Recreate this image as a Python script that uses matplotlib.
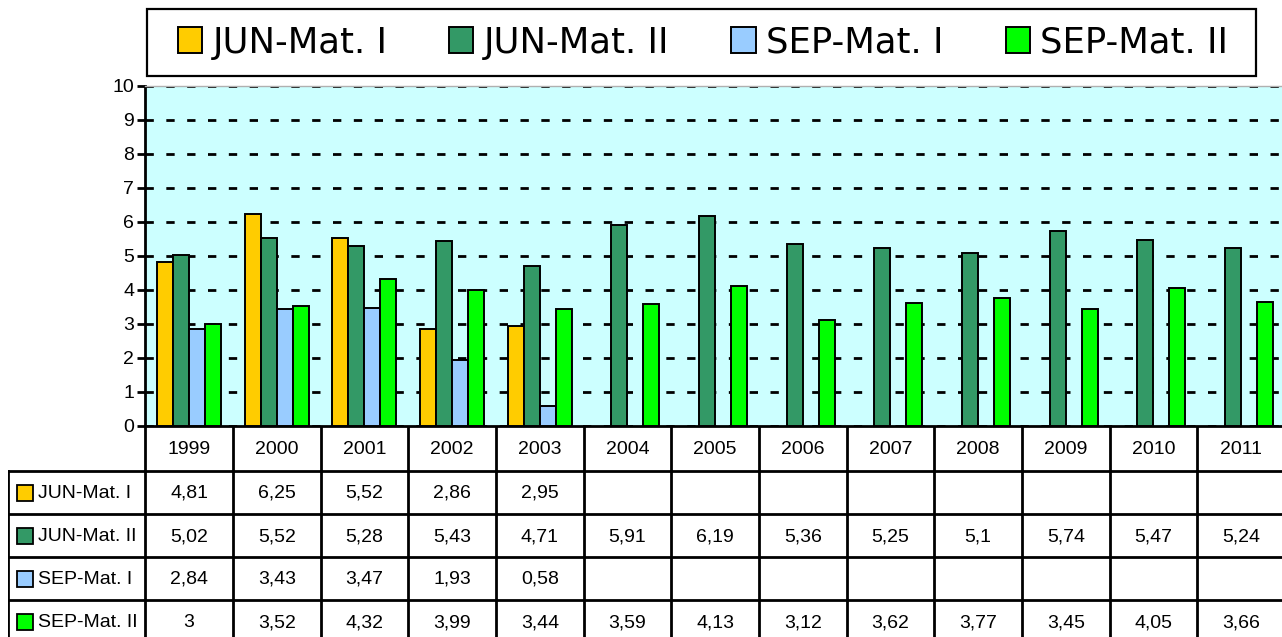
import numpy as np
import matplotlib
matplotlib.use("Agg")
import matplotlib.pyplot as plt
from matplotlib.patches import Rectangle

plt.rcParams['font.family'] = ['Liberation Sans', 'DejaVu Sans']

years = ['1999', '2000', '2001', '2002', '2003', '2004', '2005',
         '2006', '2007', '2008', '2009', '2010', '2011']
series_names = ['JUN-Mat. I', 'JUN-Mat. II', 'SEP-Mat. I', 'SEP-Mat. II']
jun_mat1 = [4.81, 6.25, 5.52, 2.86, 2.95] + [np.nan] * 8
jun_mat2 = [5.02, 5.52, 5.28, 5.43, 4.71, 5.91, 6.19, 5.36, 5.25, 5.1, 5.74, 5.47, 5.24]
sep_mat1 = [2.84, 3.43, 3.47, 1.93, 0.58] + [np.nan] * 8
sep_mat2 = [3, 3.52, 4.32, 3.99, 3.44, 3.59, 4.13, 3.12, 3.62, 3.77, 3.45, 4.05, 3.66]
colors = ['#FFCC00', '#339966', '#99CCFF', '#00FF00']

all_series = [jun_mat1, jun_mat2, sep_mat1, sep_mat2]

W, H = 1282, 637
fig = plt.figure(figsize=(W / 100, H / 100), dpi=100)

# plot area in pixels
px_left, px_right, px_top, px_bottom = 145.3, 1285, 86, 426
ax = fig.add_axes([px_left / W, 1 - px_bottom / H,
                   (px_right - px_left) / W, (px_bottom - px_top) / H])
ax.set_facecolor('#CCFFFF')

x = np.arange(len(years))
bw = 0.1825
for i, (vals, name, c) in enumerate(zip(all_series, series_names, colors)):
    ax.bar(x + (i - 1.5) * bw, vals, bw, color=c, edgecolor='black',
           linewidth=1.4, label=name, zorder=3)

ax.set_xlim(-0.5, len(years) - 0.5)
ax.set_ylim(0, 10)
ax.set_yticks(range(0, 11))
ax.set_xticks([])
ax.yaxis.grid(True, color='black', linestyle=(0, (3, 4.5)), linewidth=2, zorder=1)
ax.set_axisbelow(True)
ax.tick_params(axis='y', direction='out', length=6, width=2, labelsize=14, pad=2)
ax.spines['right'].set_visible(False)
ax.spines['top'].set_color('#B0B0B0')
ax.spines['top'].set_linewidth(1)
ax.spines['left'].set_linewidth(2)
ax.spines['bottom'].set_linewidth(2)

# data table below the plot
col_w = (px_right - px_left) / len(years)
tbl_left = 8
label_w = (px_left - tbl_left) / col_w
header_h, row_h = 45, 43
tbl_h = H - px_bottom
tax = fig.add_axes([tbl_left / W, 0, (px_right - tbl_left) / W, tbl_h / H])
tax.set_xlim(-0.5 - label_w, len(years) - 0.5)
tax.set_ylim(tbl_h, 0)
tax.axis('off')

lw = 2
# header row
for k in range(len(years) + 1):
    tax.plot([k - 0.5, k - 0.5], [0, header_h], color='black', lw=lw)
for k, yr in enumerate(years):
    tax.text(k, header_h / 2 + 1, yr, ha='center', va='center', fontsize=14)

# body rows
for r in range(len(series_names) + 1):
    yy = header_h + r * row_h
    tax.plot([-0.5 - label_w, len(years) - 0.5], [yy, yy], color='black', lw=lw)
y_end = header_h + len(series_names) * row_h
tax.plot([-0.5 - label_w] * 2, [header_h, y_end], color='black', lw=lw)
for k in range(len(years) + 1):
    tax.plot([k - 0.5, k - 0.5], [header_h, y_end], color='black', lw=lw)

sq = 16 / col_w
for r, (vals, name, c) in enumerate(zip(all_series, series_names, colors)):
    yc = header_h + r * row_h + row_h / 2
    tax.add_patch(Rectangle((-0.5 - label_w + 9 / col_w, yc - 8), sq, 16,
                            facecolor=c, edgecolor='black', lw=1.3))
    tax.text(-0.5 - label_w + 30 / col_w, yc + 1, name, ha='left', va='center',
             fontsize=14)
    for k, v in enumerate(vals):
        if not np.isnan(v):
            tax.text(k, yc + 1, f"{v:g}".replace('.', ','), ha='center',
                     va='center', fontsize=14)

# legend box on top
fig.patches.append(Rectangle((147 / W, 1 - 76 / H), 1109 / W, 67 / H,
                             transform=fig.transFigure, facecolor='white',
                             edgecolor='black', lw=1.6))
handles, labels = ax.get_legend_handles_labels()
fig.legend(handles, labels, loc='center', bbox_to_anchor=(703 / W, 1 - 42.5 / H),
           ncol=4, frameon=False, prop={'family': 'DejaVu Sans', 'size': 25.5},
           handlelength=0.68, handleheight=0.78, handletextpad=0.3,
           columnspacing=1.75, borderpad=0, borderaxespad=0)

fig.savefig('out.png', dpi=100)
